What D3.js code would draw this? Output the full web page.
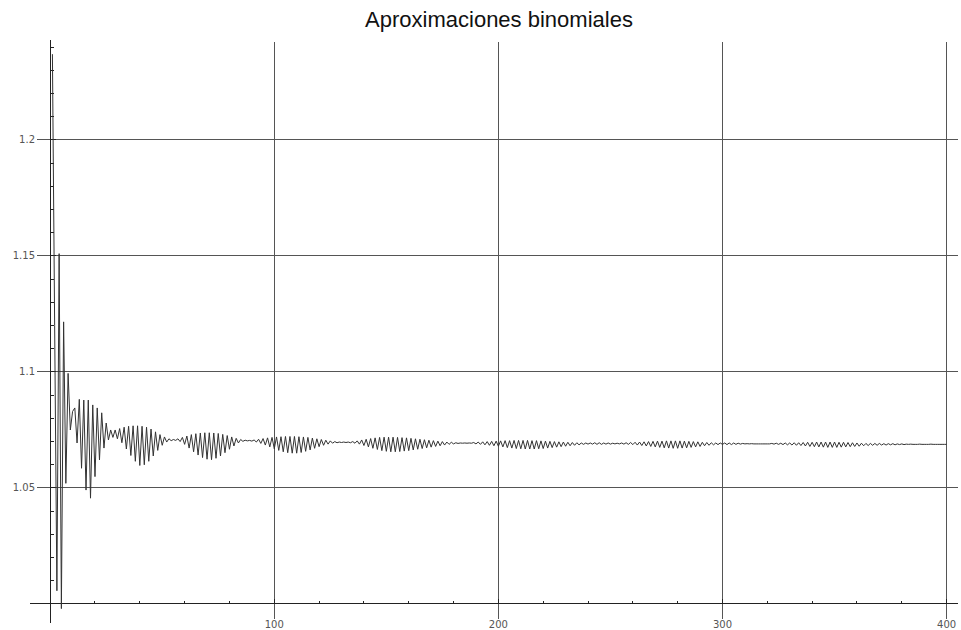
<!DOCTYPE html>
<html>
<head>
<meta charset="utf-8">
<script src="https://cdn.jsdelivr.net/npm/d3@7"></script>
<style>
  body { margin: 0; background: #fff; }
</style>
</head>
<body>
<svg id="chart" width="961" height="630"></svg>
<script>
// Binomial approximations for n = 1 .. 400 steps
const chartTitle = "Aproximaciones binomiales";
const firstStep = 1;
const approxValues = [
  1.2370, 1.1200, 1.0057, 1.1510, 0.9980, 1.1216, 1.0520, 1.0994, 1.0750, 1.0830,
  1.0845, 1.0694, 1.0882, 1.0585, 1.0879, 1.0491, 1.0879, 1.0456, 1.0858, 1.0549,
  1.0845, 1.0621, 1.0824, 1.0672, 1.0780, 1.0707, 1.0750, 1.0718, 1.0750, 1.0712,
  1.0756, 1.0695, 1.0762, 1.0668, 1.0766, 1.0640, 1.0768, 1.0615, 1.0768, 1.0597,
  1.0766, 1.0600, 1.0762, 1.0615, 1.0754, 1.0638, 1.0742, 1.0662, 1.0730, 1.0684,
  1.0720, 1.0698, 1.0712, 1.0704, 1.0709, 1.0705, 1.0712, 1.0700, 1.0718, 1.0688,
  1.0724, 1.0672, 1.0730, 1.0656, 1.0734, 1.0642, 1.0737, 1.0631, 1.0738, 1.0624,
  1.0738, 1.0622, 1.0737, 1.0628, 1.0735, 1.0638, 1.0731, 1.0652, 1.0726, 1.0667,
  1.0720, 1.0681, 1.0714, 1.0694, 1.0709, 1.0701, 1.0706, 1.0703, 1.0705, 1.0702,
  1.0707, 1.0698, 1.0710, 1.0692, 1.0713, 1.0685, 1.0716, 1.0677, 1.0718, 1.0669,
  1.0720, 1.0662, 1.0721, 1.0656, 1.0722, 1.0652, 1.0722, 1.0650, 1.0722, 1.0650,
  1.0721, 1.0653, 1.0720, 1.0658, 1.0718, 1.0664, 1.0715, 1.0671, 1.0712, 1.0678,
  1.0709, 1.0684, 1.0706, 1.0689, 1.0703, 1.0693, 1.0700, 1.0695, 1.0698, 1.0696,
  1.0698, 1.0696, 1.0698, 1.0695, 1.0700, 1.0693, 1.0703, 1.0689, 1.0707, 1.0683,
  1.0710, 1.0677, 1.0713, 1.0671, 1.0716, 1.0666, 1.0718, 1.0661, 1.0719, 1.0658,
  1.0719, 1.0656, 1.0719, 1.0656, 1.0718, 1.0657, 1.0717, 1.0659, 1.0716, 1.0661,
  1.0714, 1.0664, 1.0712, 1.0667, 1.0710, 1.0670, 1.0708, 1.0673, 1.0706, 1.0676,
  1.0704, 1.0679, 1.0702, 1.0682, 1.0700, 1.0685, 1.0698, 1.0688, 1.0697, 1.0690,
  1.0695, 1.0692, 1.0694, 1.0693, 1.0694, 1.0693, 1.0694, 1.0693, 1.0696, 1.0690,
  1.0698, 1.0688, 1.0699, 1.0686, 1.0700, 1.0684, 1.0701, 1.0682, 1.0702, 1.0680,
  1.0703, 1.0677, 1.0704, 1.0674, 1.0704, 1.0672, 1.0705, 1.0670, 1.0705, 1.0669,
  1.0705, 1.0668, 1.0705, 1.0668, 1.0704, 1.0668, 1.0704, 1.0669, 1.0703, 1.0670,
  1.0702, 1.0672, 1.0701, 1.0674, 1.0700, 1.0676, 1.0699, 1.0678, 1.0698, 1.0680,
  1.0697, 1.0682, 1.0696, 1.0684, 1.0695, 1.0686, 1.0694, 1.0688, 1.0694, 1.0689,
  1.0694, 1.0689, 1.0695, 1.0688, 1.0695, 1.0688, 1.0694, 1.0689, 1.0694, 1.0689,
  1.0693, 1.0690, 1.0693, 1.0690, 1.0694, 1.0689, 1.0695, 1.0688, 1.0696, 1.0687,
  1.0697, 1.0685, 1.0698, 1.0683, 1.0699, 1.0681, 1.0700, 1.0679, 1.0701, 1.0677,
  1.0702, 1.0675, 1.0702, 1.0673, 1.0703, 1.0672, 1.0703, 1.0671, 1.0703, 1.0671,
  1.0703, 1.0672, 1.0702, 1.0673, 1.0701, 1.0675, 1.0700, 1.0677, 1.0699, 1.0679,
  1.0697, 1.0682, 1.0696, 1.0684, 1.0695, 1.0686, 1.0694, 1.0687, 1.0694, 1.0688,
  1.0694, 1.0687, 1.0694, 1.0687, 1.0694, 1.0688, 1.0693, 1.0689, 1.0692, 1.0690,
  1.0691, 1.0690, 1.0691, 1.0690, 1.0690, 1.0690, 1.0690, 1.0690, 1.0690, 1.0690,
  1.0690, 1.0692, 1.0689, 1.0693, 1.0688, 1.0693, 1.0687, 1.0694, 1.0686, 1.0694,
  1.0685, 1.0695, 1.0684, 1.0695, 1.0683, 1.0696, 1.0681, 1.0697, 1.0679, 1.0697,
  1.0678, 1.0698, 1.0677, 1.0698, 1.0676, 1.0698, 1.0675, 1.0698, 1.0675, 1.0698,
  1.0675, 1.0697, 1.0676, 1.0697, 1.0677, 1.0696, 1.0678, 1.0695, 1.0679, 1.0694,
  1.0680, 1.0693, 1.0682, 1.0692, 1.0683, 1.0692, 1.0684, 1.0692, 1.0684, 1.0692,
  1.0685, 1.0691, 1.0685, 1.0691, 1.0686, 1.0691, 1.0686, 1.0690, 1.0687, 1.0690,
  1.0687, 1.0689, 1.0688, 1.0689, 1.0688, 1.0688, 1.0688, 1.0689, 1.0688, 1.0688,
  1.0688, 1.0688, 1.0689, 1.0688, 1.0688, 1.0688, 1.0688, 1.0688, 1.0688, 1.0688
];
const xTickLabels = [100, 200, 300, 400];
const xMinorStep = 20;
const yTickLabels = [1.05, 1.1, 1.15, 1.2];
const yMinorStep = 0.01;

// plot range
const xDomain = [-9, 405];
const yDomain = [0.9918, 1.2431];

const svg = d3.select("#chart");
const x = d3.scaleLinear().domain(xDomain).range([30, 957.8]);
const y = d3.scaleLinear().domain(yDomain).range([623, 40]);

const gridColor = "#555";
const axisColor = "#222";
const labelFont = "DejaVu Sans, Verdana, sans-serif";

// title
svg.append("text")
  .attr("x", 499).attr("y", 27)
  .attr("text-anchor", "middle")
  .attr("font-family", "Liberation Sans, Arial, sans-serif")
  .attr("font-size", 22)
  .attr("fill", "#111")
  .text(chartTitle);

// grid lines
const grid = svg.append("g").attr("stroke", gridColor).attr("stroke-width", 1).attr("shape-rendering", "crispEdges");
grid.selectAll("line.h").data(yTickLabels).join("line")
  .attr("class", "h")
  .attr("x1", 37).attr("x2", x(xDomain[1]))
  .attr("y1", d => y(d)).attr("y2", d => y(d));
grid.selectAll("line.v").data(xTickLabels).join("line")
  .attr("class", "v")
  .attr("x1", d => x(d)).attr("x2", d => x(d))
  .attr("y1", y(1.2422)).attr("y2", y(0.9935));

// axes
const axes = svg.append("g").attr("stroke", axisColor).attr("stroke-width", 1).attr("shape-rendering", "crispEdges");
axes.append("line")
  .attr("x1", x(xDomain[0])).attr("x2", x(xDomain[1]))
  .attr("y1", y(1)).attr("y2", y(1));
axes.append("line")
  .attr("x1", x(0)).attr("x2", x(0))
  .attr("y1", y(yDomain[1])).attr("y2", y(yDomain[0]));

// x ticks (upward)
const xTicks = d3.range(xMinorStep, 401, xMinorStep);
axes.selectAll("line.xt").data(xTicks).join("line")
  .attr("class", "xt")
  .attr("x1", d => x(d)).attr("x2", d => x(d))
  .attr("y1", y(1)).attr("y2", d => y(1) - (d % 100 === 0 ? 5 : 3));

// y ticks (to the right)
const yTicks = d3.range(1, 24.5).map(k => +(1 + k * yMinorStep).toFixed(2));
axes.selectAll("line.yt").data(yTicks).join("line")
  .attr("class", "yt")
  .attr("x1", x(0)).attr("x2", d => x(0) + (yTickLabels.includes(d) ? 6 : 4))
  .attr("y1", d => y(d)).attr("y2", d => y(d));

// tick labels
svg.selectAll("text.xl").data(xTickLabels).join("text")
  .attr("class", "xl")
  .attr("x", d => x(d)).attr("y", 627.5)
  .attr("text-anchor", "middle")
  .attr("font-family", labelFont).attr("font-size", 10)
  .attr("fill", "#555")
  .text(d => d);
svg.selectAll("text.yl").data(yTickLabels).join("text")
  .attr("class", "yl")
  .attr("x", 35).attr("y", d => y(d))
  .attr("text-anchor", "end")
  .attr("dominant-baseline", "central")
  .attr("font-family", labelFont).attr("font-size", 10)
  .attr("fill", "#555")
  .text(d => d);

// approximation curve
const line = d3.line()
  .x((d, i) => x(firstStep + i))
  .y(d => y(d));
svg.append("path")
  .datum(approxValues)
  .attr("fill", "none")
  .attr("stroke", "#333")
  .attr("stroke-width", 1)
  .attr("stroke-linejoin", "miter")
  .attr("d", line);
</script>
</body>
</html>
